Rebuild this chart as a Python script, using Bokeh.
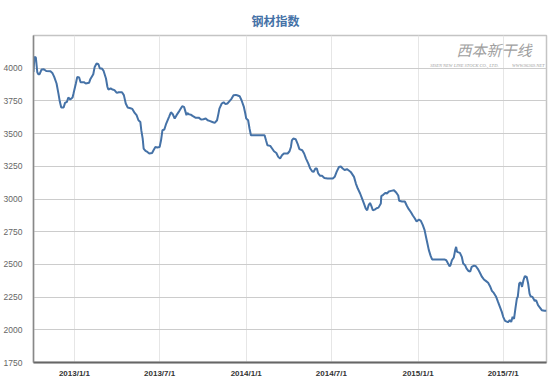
import pandas as pd
from bokeh.plotting import figure
from bokeh.models import Range1d, FixedTicker, Label
from bokeh.embed import file_html
from bokeh.resources import INLINE

title_text = "钢材指数"

dates = [
    "2012-10-06", "2012-10-08", "2012-10-11", "2012-10-14", "2012-10-16", "2012-10-19",
    "2012-10-23", "2012-10-28", "2012-11-02", "2012-11-11", "2012-11-15", "2012-11-19",
    "2012-11-24", "2012-11-28", "2012-12-01", "2012-12-04", "2012-12-09", "2012-12-12",
    "2012-12-16", "2012-12-19", "2012-12-23", "2012-12-28", "2012-12-30",
    "2013-01-04", "2013-01-07", "2013-01-11", "2013-01-14", "2013-01-21", "2013-01-25",
    "2013-02-01", "2013-02-04", "2013-02-10", "2013-02-13", "2013-02-17", "2013-02-21",
    "2013-02-24", "2013-02-28", "2013-03-04", "2013-03-09", "2013-03-12", "2013-03-14",
    "2013-03-19", "2013-03-23", "2013-03-27", "2013-04-01", "2013-04-05", "2013-04-12",
    "2013-04-16", "2013-04-20", "2013-04-24", "2013-04-30", "2013-05-04", "2013-05-09",
    "2013-05-13", "2013-05-17", "2013-05-21", "2013-05-23", "2013-05-26", "2013-05-28",
    "2013-06-01", "2013-06-05", "2013-06-09", "2013-06-15", "2013-06-18", "2013-06-22",
    "2013-06-26", "2013-07-01", "2013-07-04", "2013-07-07", "2013-07-11", "2013-07-15",
    "2013-07-21", "2013-07-25", "2013-07-29", "2013-08-02", "2013-08-06", "2013-08-12",
    "2013-08-18", "2013-08-22", "2013-08-25", "2013-08-27", "2013-08-29", "2013-09-01",
    "2013-09-05", "2013-09-09", "2013-09-15", "2013-09-22", "2013-09-27", "2013-10-02",
    "2013-10-07", "2013-10-11", "2013-10-15", "2013-10-21", "2013-10-26", "2013-10-31",
    "2013-11-03", "2013-11-05", "2013-11-10", "2013-11-14", "2013-11-18", "2013-11-22",
    "2013-11-27", "2013-12-01", "2013-12-05", "2013-12-10", "2013-12-14", "2013-12-18",
    "2013-12-22", "2013-12-27", "2013-12-30",
    "2014-01-01", "2014-01-05", "2014-01-08", "2014-01-11", "2014-01-18", "2014-02-01",
    "2014-02-09", "2014-02-12", "2014-02-15", "2014-02-21", "2014-02-25", "2014-03-01",
    "2014-03-06", "2014-03-10", "2014-03-14", "2014-03-18", "2014-03-22", "2014-03-30",
    "2014-04-03", "2014-04-06", "2014-04-08", "2014-04-11", "2014-04-16", "2014-04-20",
    "2014-04-24", "2014-04-30", "2014-05-04", "2014-05-08", "2014-05-13", "2014-05-17",
    "2014-05-21", "2014-05-24", "2014-05-28", "2014-05-31", "2014-06-03", "2014-06-07",
    "2014-06-11", "2014-06-16", "2014-06-23", "2014-07-04", "2014-07-08", "2014-07-12",
    "2014-07-17", "2014-07-21", "2014-07-25", "2014-07-29", "2014-08-03", "2014-08-07",
    "2014-08-11", "2014-08-18", "2014-08-22", "2014-08-26", "2014-08-31", "2014-09-04",
    "2014-09-08", "2014-09-12", "2014-09-15", "2014-09-18", "2014-09-21", "2014-09-24",
    "2014-09-27", "2014-10-01", "2014-10-05", "2014-10-09", "2014-10-14", "2014-10-15",
    "2014-10-19", "2014-10-24", "2014-10-27", "2014-10-31", "2014-11-05", "2014-11-11",
    "2014-11-15", "2014-11-20", "2014-11-22", "2014-11-28", "2014-12-04", "2014-12-08",
    "2014-12-12", "2014-12-17", "2014-12-21", "2014-12-25", "2014-12-29",
    "2015-01-03", "2015-01-07", "2015-01-11", "2015-01-15", "2015-01-18", "2015-01-21",
    "2015-01-24", "2015-01-28", "2015-01-31", "2015-02-26", "2015-03-02", "2015-03-05",
    "2015-03-09", "2015-03-11", "2015-03-14", "2015-03-18", "2015-03-21", "2015-03-23",
    "2015-03-25", "2015-03-31", "2015-04-04", "2015-04-07", "2015-04-11", "2015-04-14",
    "2015-04-18", "2015-04-22", "2015-04-25", "2015-04-30", "2015-05-04", "2015-05-08",
    "2015-05-12", "2015-05-17", "2015-05-21", "2015-05-25", "2015-05-30", "2015-06-03",
    "2015-06-07", "2015-06-11", "2015-06-16", "2015-06-20", "2015-06-24", "2015-06-28",
    "2015-07-01", "2015-07-05", "2015-07-11", "2015-07-15", "2015-07-18", "2015-07-21",
    "2015-07-24", "2015-07-27", "2015-07-30", "2015-08-01", "2015-08-04", "2015-08-07",
    "2015-08-10", "2015-08-13", "2015-08-16", "2015-08-20", "2015-08-23", "2015-08-26",
    "2015-08-28", "2015-09-01", "2015-09-06", "2015-09-09", "2015-09-13", "2015-09-17",
    "2015-09-21", "2015-09-27", "2015-10-01",
]

values = [
    3971, 4086, 4082, 3971, 3954, 3954,
    3990, 3992, 3979, 3977, 3964, 3934,
    3883, 3806, 3743, 3700, 3700, 3735,
    3743, 3776, 3761, 3776, 3806,
    3883, 3934, 3929, 3893, 3893, 3883,
    3888, 3918, 3954, 4010, 4036, 4030,
    3998, 3998, 3979, 3921, 3858, 3837,
    3845, 3837, 3832, 3811, 3816, 3816,
    3794, 3730, 3700, 3694, 3689, 3658,
    3641, 3602, 3589, 3526, 3462, 3386,
    3368, 3360, 3348, 3352, 3373, 3398,
    3394, 3398, 3449, 3526, 3531, 3577,
    3628, 3663, 3648, 3615, 3641, 3674,
    3709, 3704, 3666, 3641, 3658, 3648,
    3645, 3635, 3622, 3622, 3607, 3610,
    3615, 3602, 3597, 3589, 3582, 3602,
    3653, 3691, 3730, 3740, 3725, 3730,
    3750, 3768, 3794, 3796, 3791, 3786,
    3755, 3704, 3654,
    3615, 3602, 3539, 3488, 3488, 3488,
    3488, 3449, 3411, 3406, 3386, 3365,
    3352, 3322, 3309, 3335, 3348, 3348,
    3365, 3398, 3449, 3462, 3457, 3424,
    3381, 3373, 3348, 3309, 3271, 3233,
    3212, 3207, 3233, 3233, 3195, 3177,
    3177, 3161, 3157, 3157, 3170, 3207,
    3245, 3248, 3233, 3222, 3228, 3218,
    3207, 3169, 3118, 3080, 3042, 3004,
    2966, 2927, 2914, 2952, 2970, 2945,
    2914, 2919, 2929, 2934, 2966, 3022,
    3032, 3047, 3042, 3057, 3062, 3067,
    3052, 3027, 2986, 2981, 2981, 2950,
    2924, 2899, 2874, 2853, 2828,
    2843, 2833, 2802, 2762, 2710, 2660,
    2609, 2563, 2538, 2538, 2532, 2512,
    2486, 2494, 2532, 2553, 2609, 2634,
    2596, 2588, 2558, 2507, 2494, 2469,
    2450, 2446, 2481, 2491, 2486, 2466,
    2440, 2404, 2385, 2374, 2359, 2333,
    2298, 2282, 2252, 2213, 2175, 2137,
    2099, 2068, 2058, 2073, 2060, 2099,
    2083, 2163, 2239, 2252, 2354, 2364,
    2328, 2379, 2410, 2404, 2354, 2277,
    2257, 2252, 2221, 2226, 2188, 2170,
    2150, 2145, 2145,
]

y_ticks = [1750, 2000, 2250, 2500, 2750, 3000, 3250, 3500, 3750, 4000]
y_min, y_max = 1750, 4250
x_tick_dates = ["2013-01-01", "2013-07-01", "2014-01-01", "2014-07-01", "2015-01-01", "2015-07-01"]
x_tick_labels = ["2013/1/1", "2013/7/1", "2014/1/1", "2014/7/1", "2015/1/1", "2015/7/1"]
watermark_cn = "西本新干线"
watermark_en = "SISEN NEW LINE STOCK CO., LTD."
watermark_web = "WWW.96369.NET"

x = pd.to_datetime(dates)
line_color = "#4572A7"

p = figure(width=554, height=392, x_axis_type="datetime",
           x_range=Range1d(x[0], x[-1]), y_range=Range1d(y_min, y_max),
           output_backend="svg", toolbar_location=None,
           min_border_left=33, min_border_right=8, min_border_top=35, min_border_bottom=30)

p.title.text = title_text
p.title.align = "left"
p.title.offset = 218
p.title.standoff = 13
p.title.text_font = "Noto Sans CJK SC"
p.title.text_font_size = "12px"
p.title.text_font_style = "bold"
p.title.text_color = line_color

p.line(x, values, line_color=line_color, line_width=2)

tick_ms = [int(pd.Timestamp(d).value // 10**6) for d in x_tick_dates]
p.xaxis.ticker = FixedTicker(ticks=tick_ms)
p.xaxis.major_label_overrides = {t: lab for t, lab in zip(tick_ms, x_tick_labels)}
p.yaxis.ticker = FixedTicker(ticks=y_ticks)

for ax in (p.xaxis, p.yaxis):
    ax.major_tick_line_color = None
    ax.minor_tick_line_color = None
    ax.major_tick_out = 0
    ax.major_tick_in = 0
    ax.minor_tick_out = 0
    ax.minor_tick_in = 0

p.xaxis.axis_line_color = "#666666"
p.xaxis.axis_line_width = 2
p.xaxis.major_label_text_font = "Liberation Sans"
p.xaxis.major_label_text_font_size = "8px"
p.xaxis.major_label_text_font_style = "bold"
p.xaxis.major_label_text_color = "#333333"
p.xaxis.major_label_standoff = 6

p.yaxis.axis_line_color = "#888888"
p.yaxis.axis_line_width = 1.5
p.yaxis.major_label_text_font = "Liberation Sans"
p.yaxis.major_label_text_font_size = "8.5px"
p.yaxis.major_label_text_color = "#666666"
p.yaxis.major_label_standoff = 11
p.yaxis.major_label_text_baseline = "bottom"

p.ygrid.grid_line_color = "#cccccc"
p.xgrid.grid_line_color = "#e6e6e6"
p.outline_line_color = "#c4c4c4"
p.outline_line_width = 1.5
p.background_fill_color = "white"
p.border_fill_color = "white"

p.add_layout(Label(x=x[-1], y=y_max, x_offset=-15, y_offset=-24, text=watermark_cn,
                   text_align="right", text_font="Noto Sans CJK SC", text_font_size="15px",
                   text_font_style="italic", text_color="#a0a0a0"))
p.add_layout(Label(x=x[-1], y=y_max, x_offset=-48, y_offset=-32, text=watermark_en,
                   text_align="right", text_font="Liberation Serif", text_font_size="4.5px",
                   text_font_style="italic", text_color="#a0a0a0"))
p.add_layout(Label(x=x[-1], y=y_max, x_offset=-2, y_offset=-32, text=watermark_web,
                   text_align="right", text_font="Liberation Serif", text_font_size="4.5px",
                   text_font_style="italic", text_color="#a0a0a0"))

open("out.html", "w").write(file_html(p, INLINE))
